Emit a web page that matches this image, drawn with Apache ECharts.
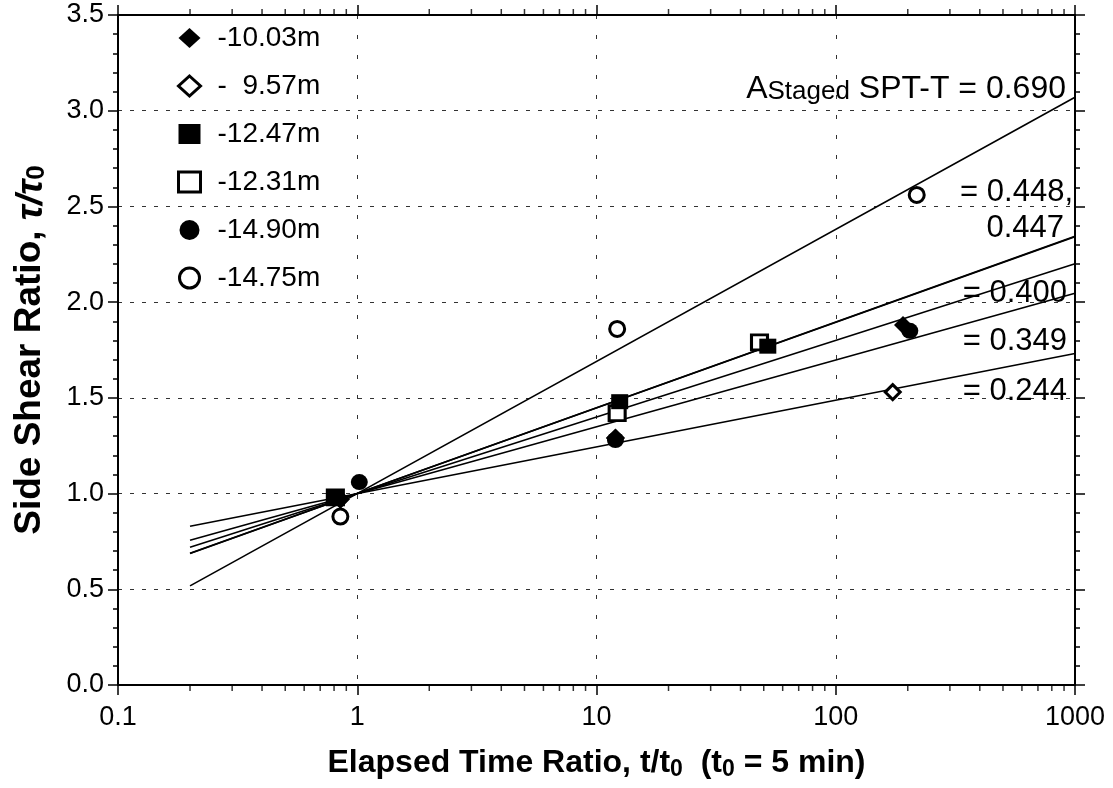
<!DOCTYPE html>
<html>
<head>
<meta charset="utf-8">
<script src="https://cdn.jsdelivr.net/npm/echarts@6/dist/echarts.min.js"></script>
<style>
html,body{margin:0;padding:0;background:#fff;}
#chart{width:1113px;height:788px;}
</style>
</head>
<body>
<div id="chart"></div>
<script>
// ---- data ----
const seriesNames = ['-10.03m', '-  9.57m', '-12.47m', '-12.31m', '-14.90m', '-14.75m'];
const t_1003 = [0.85, 12.0, 191];
const r_1003 = [0.97, 1.29, 1.88];
const t_0957 = [0.85, 12.0, 173];
const r_0957 = [0.97, 1.29, 1.53];
const t_1247 = [0.81, 12.5, 52];
const r_1247 = [0.98, 1.48, 1.77];
const t_1231 = [0.81, 12.2, 48];
const r_1231 = [0.98, 1.42, 1.79];
const t_1490 = [1.02, 12.0, 204];
const r_1490 = [1.06, 1.28, 1.85];
const t_1475 = [0.85, 12.2, 218];
const r_1475 = [0.88, 1.86, 2.56];

// fitted lines: value at x = 0.2 and at x = 1000
const fitX = [0.2, 1000];
const fitStart = [0.518, 0.687, 0.688, 0.720, 0.756, 0.829];
const fitEnd = [3.070, 2.344, 2.341, 2.200, 2.047, 1.732];
const fitLabels = ['= 0.690', '= 0.448,', '0.447', '= 0.400', '= 0.349', '= 0.244'];

const xTickLabels = ['0.1', '1', '10', '100', '1000'];
const yTickLabels = ['0.0', '0.5', '1.0', '1.5', '2.0', '2.5', '3.0', '3.5'];
const xMinorTicks = [0.2,0.3,0.4,0.5,0.6,0.7,0.8,0.9,2,3,4,5,6,7,8,9,20,30,40,50,60,70,80,90,200,300,400,500,600,700,800,900];

// ---- chart ----
const FONT = '"Liberation Sans", Arial, sans-serif';
const zip = (a, b) => a.map((v, i) => [v, b[i]]);
const pts = [zip(t_1003, r_1003), zip(t_0957, r_0957), zip(t_1247, r_1247), zip(t_1231, r_1231), zip(t_1490, r_1490), zip(t_1475, r_1475)];
const styles = [
  {symbol: 'diamond', size: [18, 18], fill: '#000', bw: 0, z: 7},
  {symbol: 'diamond', size: [15, 15], fill: '#fff', bw: 3, z: 5},
  {symbol: 'rect', size: [17, 15], fill: '#000', bw: 0, z: 6},
  {symbol: 'rect', size: [16, 15], fill: '#fff', bw: 3, z: 5},
  {symbol: 'circle', size: [17, 16], fill: '#000', bw: 0, z: 6},
  {symbol: 'circle', size: [15, 15], fill: '#fff', bw: 3, z: 5}
];

const series = [];
fitStart.forEach((s, i) => {
  series.push({
    type: 'line', xAxisIndex: 0, yAxisIndex: 0, silent: true, symbol: 'none',
    lineStyle: {color: '#000', width: 1.6}, z: 3,
    data: [[fitX[0], s], [fitX[1], fitEnd[i]]]
  });
});
pts.forEach((d, i) => {
  const st = styles[i];
  series.push({
    type: 'scatter', name: seriesNames[i], xAxisIndex: 0, yAxisIndex: 0,
    symbol: st.symbol, symbolSize: st.size, z: st.z,
    itemStyle: {color: st.fill, borderColor: '#000', borderWidth: st.bw, opacity: 1},
    data: d
  });
});
// minor ticks of the log axes (bottom and top)
series.push({
  type: 'scatter', silent: true, clip: false, symbol: 'rect', symbolSize: [1.5, 6],
  symbolOffset: [0, 3], itemStyle: {color: '#000'}, z: 8,
  data: xMinorTicks.map(v => [v, 0])
});
series.push({
  type: 'scatter', silent: true, clip: false, symbol: 'rect', symbolSize: [1.5, 6],
  symbolOffset: [0, -3], itemStyle: {color: '#000'}, z: 8,
  data: xMinorTicks.map(v => [v, 3.5])
});

const axisLine = {show: true, onZero: false, lineStyle: {color: '#000', width: 2}};
const option = {
  animation: false,
  backgroundColor: '#fff',
  grid: {left: 118, right: 38, top: 15, bottom: 103},
  legend: {
    orient: 'vertical', left: 172, top: 18, itemWidth: 22, itemHeight: 20, itemGap: 18,
    data: seriesNames,
    textStyle: {fontFamily: FONT, fontSize: 28, color: '#000', lineHeight: 30, padding: [0, 0, 0, 12]},
    itemStyle: {borderWidth: 'inherit'}
  },
  xAxis: [
    {
      type: 'log', logBase: 10, min: 0.1, max: 1000, position: 'bottom',
      axisLine: axisLine,
      axisTick: {show: true, inside: false, length: 10, lineStyle: {color: '#000', width: 1.5}},
      axisLabel: {fontFamily: FONT, fontSize: 27, color: '#000', margin: 19,
        formatter: v => xTickLabels[Math.round(Math.log10(v)) + 1]},
      splitLine: {show: true, lineStyle: {color: '#333', width: 1, type: [4, 16]}},
      name: 'Elapsed Time Ratio, t/t{s|0}  (t{s|0} = 5 min)',
      nameLocation: 'middle', nameGap: 60,
      nameTextStyle: {fontFamily: FONT, fontSize: 32, fontWeight: 'bold', color: '#000',
        lineHeight: 36, verticalAlign: 'top',
        rich: {s: {fontFamily: FONT, fontSize: 23, fontWeight: 'bold', lineHeight: 20, verticalAlign: 'bottom'}}}
    },
    {
      type: 'log', logBase: 10, min: 0.1, max: 1000, position: 'top',
      axisLine: axisLine,
      axisTick: {show: true, inside: false, length: 10, lineStyle: {color: '#000', width: 1.5}},
      axisLabel: {show: false}, splitLine: {show: false}
    }
  ],
  yAxis: [
    {
      type: 'value', min: 0, max: 3.5, interval: 0.5, position: 'left',
      axisLine: axisLine,
      axisTick: {show: true, inside: false, length: 10, lineStyle: {color: '#000', width: 1.5}},
      minorTick: {show: true, splitNumber: 5, length: 5, lineStyle: {color: '#000', width: 1.5}},
      axisLabel: {fontFamily: FONT, fontSize: 27, color: '#000', margin: 14,
        formatter: v => yTickLabels[Math.round(v / 0.5)]},
      splitLine: {show: true, lineStyle: {color: '#333', width: 1, type: [4, 8]}},
      name: 'Side Shear Ratio, {i|τ/τ}{s|0}',
      nameLocation: 'middle', nameGap: 68, nameRotate: 90,
      nameTextStyle: {fontFamily: FONT, fontSize: 37, fontWeight: 'bold', color: '#000',
        lineHeight: 40,
        rich: {
          i: {fontFamily: FONT, fontSize: 37, fontWeight: 'bold', fontStyle: 'italic', lineHeight: 40, verticalAlign: 'bottom'},
          s: {fontFamily: FONT, fontSize: 26, fontWeight: 'bold', lineHeight: 22, verticalAlign: 'bottom'}
        }}
    },
    {
      type: 'value', min: 0, max: 3.5, interval: 0.5, position: 'right',
      axisLine: axisLine,
      axisTick: {show: true, inside: false, length: 10, lineStyle: {color: '#000', width: 1.5}},
      minorTick: {show: true, splitNumber: 5, length: 5, lineStyle: {color: '#000', width: 1.5}},
      axisLabel: {show: false}, splitLine: {show: false}
    }
  ],
  graphic: [
    {type: 'text', right: 47, top: 73, z: 10, style: {
      text: '{a|A}{s|Staged}{a| SPT-T ' + fitLabels[0] + '}',
      fill: '#000', font: '31px ' + FONT,
      rich: {a: {fontFamily: FONT, fontSize: 32, lineHeight: 36, verticalAlign: 'bottom'},
             s: {fontFamily: FONT, fontSize: 26, lineHeight: 22, verticalAlign: 'bottom'}}
    }},
    {type: 'text', right: 40, top: 177, z: 10, style: {text: fitLabels[1], fill: '#000', font: '31px ' + FONT}},
    {type: 'text', right: 49, top: 213, z: 10, style: {text: fitLabels[2], fill: '#000', font: '31px ' + FONT}},
    {type: 'text', right: 46, top: 278, z: 10, style: {text: fitLabels[3], fill: '#000', font: '31px ' + FONT}},
    {type: 'text', right: 46, top: 326, z: 10, style: {text: fitLabels[4], fill: '#000', font: '31px ' + FONT}},
    {type: 'text', right: 46, top: 376, z: 10, style: {text: fitLabels[5], fill: '#000', font: '31px ' + FONT}}
  ],
  series: series
};
const chart = echarts.init(document.getElementById('chart'), null, {renderer: 'canvas'});
chart.setOption(option);
</script>
</body>
</html>
